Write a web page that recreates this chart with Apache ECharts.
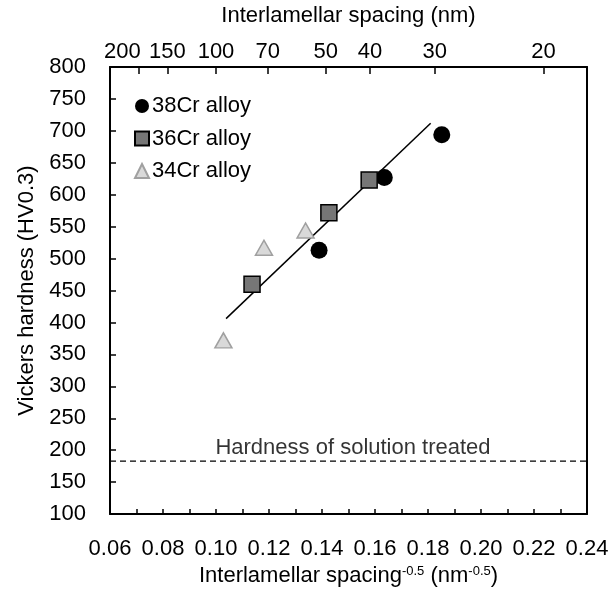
<!DOCTYPE html>
<html><head><meta charset="utf-8">
<script src="https://cdn.jsdelivr.net/npm/echarts@6/dist/echarts.min.js"></script>
<style>html,body{margin:0;padding:0;background:#fff}#c{width:615px;height:592px}</style>
</head><body><div id="c"></div>
<script>
const alloy38 = [[0.1852, 694], [0.1635, 627], [0.1389, 513]];
const alloy36 = [[0.1578, 623], [0.1426, 572], [0.1136, 460]];
const alloy34 = [[0.1338, 544], [0.1181, 517], [0.1028, 372]];
const fitLine = [[0.1038, 406], [0.1810, 712]];
const solutionHardness = 183;
const bottomTickLabels = [0.06, 0.08, 0.10, 0.12, 0.14, 0.16, 0.18, 0.20, 0.22, 0.24];
const topTickNm = [200, 150, 100, 70, 50, 40, 30, 20];

const FONT = 'Liberation Sans';
const FS = 22;
const topVals = topTickNm.map(d => 1 / Math.sqrt(d));
const chart = echarts.init(document.getElementById('c'));
chart.setOption({
  animation: false,
  textStyle: {fontFamily: FONT},
  grid: {left: 110, right: 28, top: 62, bottom: 75, show: false},
  legend: {
    orient: 'vertical', left: 129, top: 90, itemGap: 10.5,
    itemWidth: 14, itemHeight: 14,
    textStyle: {fontSize: FS, color: '#000', fontFamily: FONT, padding: [0, 0, 0, -2]},
    data: ['38Cr alloy', '36Cr alloy', '34Cr alloy']
  },
  xAxis: [{
    type: 'value', position: 'bottom', min: 0.06, max: 0.24, interval: 0.01,
    name: '{t|Interlamellar spacing}{s|-0.5}{t| (nm}{s|-0.5}{t|)}',
    nameLocation: 'middle', nameGap: 42,
    nameTextStyle: {rich: {t: {fontSize: FS, color: '#000', fontFamily: FONT}, s: {fontSize: 13, color: '#000', fontFamily: FONT, verticalAlign: 'top'}}},
    axisLine: {lineStyle: {color: '#000', width: 2}},
    axisTick: {inside: true, length: 5, lineStyle: {color: '#000', width: 1.5}},
    axisLabel: {customValues: bottomTickLabels, fontSize: FS, color: '#000', margin: 24, showMinLabel: true, showMaxLabel: true, formatter: v => v.toFixed(2)},
    splitLine: {show: false}
  }, {
    type: 'value', position: 'top', min: 0.06, max: 0.24,
    name: 'Interlamellar spacing (nm)', nameLocation: 'middle', nameGap: 40,
    nameTextStyle: {fontSize: FS, color: '#000', fontFamily: FONT},
    axisLine: {lineStyle: {color: '#000', width: 2}},
    axisTick: {inside: true, length: 7, customValues: topVals, lineStyle: {color: '#000', width: 1.5}},
    axisLabel: {
      customValues: topVals, fontSize: FS, color: '#000', margin: 4,
      showMinLabel: true, showMaxLabel: true, hideOverlap: false,
      formatter: v => { const n = Math.round(1 / (v * v)); return n === 200 ? '{l|' + n + '}' : String(n); },
      rich: {l: {fontSize: FS, color: '#000', fontFamily: FONT, padding: [0, 32, 0, 0]}}
    },
    splitLine: {show: false}
  }],
  yAxis: [{
    type: 'value', position: 'left', min: 100, max: 800, interval: 50,
    name: 'Vickers hardness (HV0.3)', nameLocation: 'middle', nameGap: 72,
    nameTextStyle: {fontSize: FS, color: '#000', fontFamily: FONT},
    axisLine: {show: true, lineStyle: {color: '#000', width: 2}},
    axisTick: {show: true, inside: true, length: 6, lineStyle: {color: '#000', width: 1.5}},
    axisLabel: {fontSize: FS, color: '#000', margin: 24},
    splitLine: {show: false}
  }, {
    type: 'value', position: 'right', min: 100, max: 800,
    axisLine: {show: true, lineStyle: {color: '#000', width: 2}},
    axisTick: {show: false}, axisLabel: {show: false}, splitLine: {show: false}
  }],
  series: [
    {name: 'fit', type: 'line', data: fitLine, symbol: 'none', lineStyle: {color: '#000', width: 1.5}, z: 1},
    {name: 'solution', type: 'line', data: [[0.06, solutionHardness], [0.24, solutionHardness]], symbol: 'none', lineStyle: {color: '#000', width: 1.3, type: [6, 4]}, z: 1},
    {name: 'solutionLabel', type: 'scatter', data: [[0.1517, solutionHardness]], symbolSize: 0,
      label: {show: true, position: 'top', distance: 2, formatter: 'Hardness of solution treated', fontSize: FS, color: '#000', fontFamily: FONT}},
    {name: '38Cr alloy', type: 'scatter', data: alloy38, symbol: 'circle', symbolSize: 17, itemStyle: {color: '#000', opacity: 1}, z: 3},
    {name: '36Cr alloy', type: 'scatter', data: alloy36, symbol: 'rect', symbolSize: 16, itemStyle: {color: '#767676', borderColor: '#000', borderWidth: 1.5, opacity: 1}, z: 3},
    {name: '34Cr alloy', type: 'scatter', data: alloy34, symbol: 'triangle', symbolSize: [17, 15], itemStyle: {color: '#d9d9d9', borderColor: '#a0a0a0', borderWidth: 1.5, opacity: 1}, z: 3}
  ]
});
</script></body></html>
